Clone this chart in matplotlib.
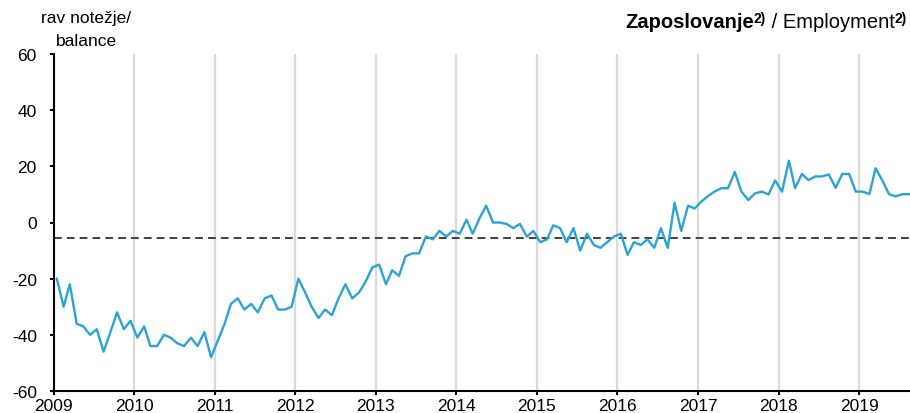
import matplotlib
matplotlib.use("Agg")
import matplotlib.pyplot as plt
import matplotlib.dates as mdates
import pandas as pd

plt.rcParams['font.family'] = ['Liberation Sans', 'DejaVu Sans']
plt.rcParams['axes.unicode_minus'] = False

# monthly balance, Jan 2009 - Aug 2019
bal_2009 = [-20, -30, -22, -36, -37, -40, -38, -46, -39, -32, -38, -35]
bal_2010 = [-41, -37, -44, -44, -40, -41, -43, -44, -41, -44, -39, -48]
bal_2011 = [-42, -36, -29, -27, -31, -29, -32, -27, -26, -31, -31, -30]
bal_2012 = [-20, -25, -30, -34, -31, -33, -27, -22, -27, -25, -21, -16]
bal_2013 = [-15, -22, -17, -19, -12, -11, -11, -5, -6, -3, -5, -3]
bal_2014 = [-4, 1, -4, 1.5, 6, 0, 0, -0.5, -2, -0.5, -5, -3]
bal_2015 = [-7, -6, -1, -2, -7, -2, -10, -4, -8, -9, -7, -5]
bal_2016 = [-4, -11.5, -7, -8, -6, -9, -2, -9, 7, -3, 6, 5]
bal_2017 = [7.5, 9.5, 11, 12.2, 12.2, 18, 11, 8, 10.4, 11, 10, 15]
bal_2018 = [11, 22, 12.2, 17.3, 15.1, 16.4, 16.4, 17.1, 12.3, 17.3, 17.3, 11]
bal_2019 = [11, 10.1, 19.3, 14.9, 10.1, 9.3, 10.1, 10.1]
balance = (bal_2009 + bal_2010 + bal_2011 + bal_2012 + bal_2013 + bal_2014
           + bal_2015 + bal_2016 + bal_2017 + bal_2018 + bal_2019)
avg_balance = -5.5

months = pd.date_range('2009-01-01', periods=len(balance), freq='MS') + pd.Timedelta(days=15)
years = pd.date_range('2010-01-01', '2019-01-01', freq='YS')
y_ticks = [-60, -40, -20, 0, 20, 40, 60]

W, H = 910, 414
fig = plt.figure(figsize=(W / 100, H / 100), dpi=100)
ax = fig.add_axes([53.5 / W, 1 - 392 / H, (W - 53.5) / W, (392 - 55) / H])

for y in years:
    ax.axvline(y, color='#d9d9d9', lw=1.6, zorder=0)

ax.axhline(avg_balance, color='#404040', lw=1.4, ls=(0, (4, 2.6)), zorder=2)
ax.plot(months, balance, color='#2ba3d6', lw=1.7, zorder=3)

ax.set_xlim(pd.Timestamp('2009-01-01'), pd.Timestamp('2019-08-19'))
ax.set_ylim(-60, 60)
ax.set_yticks(y_ticks)
ax.xaxis.set_major_locator(mdates.YearLocator())
ax.xaxis.set_major_formatter(mdates.DateFormatter('%Y'))

for s in ['top', 'right']:
    ax.spines[s].set_visible(False)
for s in ['left', 'bottom']:
    ax.spines[s].set_linewidth(1.5)
    ax.spines[s].set_color('black')
ax.tick_params(axis='y', length=3, width=1.5, pad=9, labelsize=12.5)
ax.tick_params(axis='x', length=3, width=1.5, pad=2, labelsize=12.5)

fig.text(86 / W, 1 - 18 / H, 'rav notežje/', ha='center', va='center', fontsize=12.5)
fig.text(86 / W, 1 - 42 / H, 'balance', ha='center', va='center', fontsize=12.5)

# title pieces, drawn right to left
parts = [('Zaposlovanje', 'bold', False), ('2)', 'bold', True),
         (' / Employment', 'normal', False), ('2)', 'bold', True)]
fig.canvas.draw()
r = fig.canvas.get_renderer()
x = 907
base = H - 28
for s, w, sup in reversed(parts):
    t = fig.text(x / W, (base + (5 if sup else 0)) / H, s, ha='right', va='baseline',
                 fontweight=w, fontsize=10 if sup else 14.5)
    x = t.get_window_extent(r).x0

fig.savefig('out.png', dpi=100)
